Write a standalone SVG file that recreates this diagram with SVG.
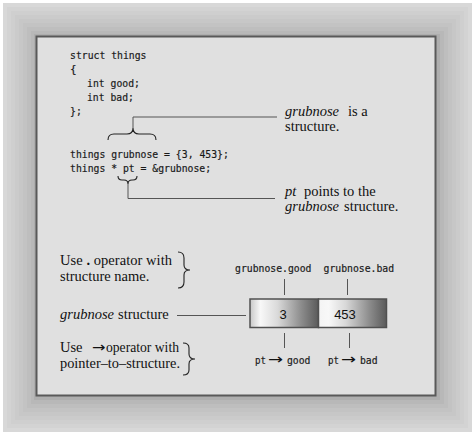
<svg xmlns="http://www.w3.org/2000/svg" width="475" height="435" viewBox="0 0 475 435">
<defs>
<linearGradient id="cell1" x1="0" y1="0" x2="1" y2="0">
<stop offset="0" stop-color="#c8c8c8"/>
<stop offset="0.15" stop-color="#f8f8f8"/>
<stop offset="0.4" stop-color="#dadada"/>
<stop offset="0.75" stop-color="#8c8c8c"/>
<stop offset="1" stop-color="#5a5a5a"/>
</linearGradient>
<linearGradient id="cell2" x1="0" y1="0" x2="1" y2="0">
<stop offset="0" stop-color="#f4f4f4"/>
<stop offset="0.15" stop-color="#f8f8f8"/>
<stop offset="0.4" stop-color="#d8d8d8"/>
<stop offset="0.75" stop-color="#8c8c8c"/>
<stop offset="1" stop-color="#5a5a5a"/>
</linearGradient>
</defs>
<style>
.code{font-family:"DejaVu Sans Mono","Liberation Mono",monospace;font-size:11px;fill:#1a1a1a;stroke:#1a1a1a;stroke-width:0.2}
.ser{font-family:"Liberation Serif","Times New Roman",serif;font-size:14.5px;fill:#111}
.it{font-style:italic}
.arr{font-family:"DejaVu Sans",sans-serif;font-size:14px;fill:#111}
.num{font-family:"Liberation Sans",Arial,sans-serif;font-size:13px;fill:#111;text-anchor:middle}
.ln{stroke:#555;stroke-width:1;fill:none}
.br{stroke:#222;stroke-width:1.1;fill:none}
.cell{stroke:#505050;stroke-width:1.5}
</style>
<rect width="475" height="435" fill="#ffffff"/>
<g id="frame">
<rect x="3" y="3" width="469" height="429" fill="#d8d8d8"/>
<rect x="7" y="7" width="461" height="421" fill="#d3d3d3"/>
<rect x="11" y="11" width="453" height="413" fill="#cfcfcf"/>
<rect x="15" y="15" width="445" height="405" fill="#cbcbcb"/>
<rect x="19" y="19" width="437" height="397" fill="#c7c7c7"/>
<rect x="23" y="23" width="429" height="389" fill="#c3c3c3"/>
<rect x="27" y="27" width="421" height="381" fill="#bebebe"/>
<rect x="31" y="31" width="413" height="373" fill="#b8b8b8"/>
<rect x="34" y="34" width="406" height="366" fill="#aeaeae"/>
</g>
<rect x="36.5" y="36.5" width="399" height="359" fill="#e0e0e0" stroke="#595959" stroke-width="2"/>

<g id="code">
<text class="code" x="70" y="59" textLength="76.4" lengthAdjust="spacingAndGlyphs">struct things</text>
<text class="code" x="70" y="73">{</text>
<text class="code" x="87" y="87" textLength="52.9" lengthAdjust="spacingAndGlyphs">int good;</text>
<text class="code" x="87" y="101" textLength="47" lengthAdjust="spacingAndGlyphs">int bad;</text>
<text class="code" x="70" y="115" textLength="11.8" lengthAdjust="spacingAndGlyphs">};</text>
<text class="code" x="70" y="158" textLength="158.8" lengthAdjust="spacingAndGlyphs">things grubnose = {3, 453};</text>
<text class="code" x="70" y="172" textLength="141.1" lengthAdjust="spacingAndGlyphs">things * pt = &amp;grubnose;</text>
</g>

<g id="connectors">
<path class="br" d="M108,140 Q108,134 114,134 L127,134 Q133,134 133,128 Q133,134 139,134 L150,134 Q156,134 156,140"/>
<path class="ln" d="M133,128 V117 H277"/>
<path class="br" d="M118,176 Q118,180 122,180 L124,180 Q128,180 128,184 Q128,180 132,180 L133,180 Q137,180 137,176"/>
<path class="ln" d="M128,184 V198.5 H275"/>
<path class="br" d="M178,252 Q184,252 184,258 L184,265 Q184,270 190,270 Q184,270 184,275 L184,282 Q184,288 178,288"/>
<path class="br" d="M183,343 Q189,343 189,348 L189,354 Q189,359 195,359 Q189,359 189,364 L189,370 Q189,375 183,375"/>
<path class="ln" d="M177,315.5 H246" stroke-width="1.3"/>
<path class="ln" d="M284.5,279 V295 M347.5,279 V295 M284.5,333 V348 M349.5,333 V348"/>
</g>

<g id="label-grubnose-is">
<text class="ser" y="116"><tspan class="it" x="285">grubnose</tspan><tspan x="348">is a</tspan></text>
<text class="ser" x="285" y="131">structure.</text>
</g>
<g id="label-pt-points">
<text class="ser" y="196"><tspan class="it" x="285">pt</tspan><tspan x="304">points to the</tspan></text>
<text class="ser" y="211"><tspan class="it" x="285">grubnose</tspan><tspan x="344">structure.</tspan></text>
</g>

<g id="label-dot">
<text class="ser" x="60" y="265" textLength="112" lengthAdjust="spacing">Use <tspan font-weight="bold">.</tspan> operator with</text>
<text class="ser" x="60" y="281">structure name.</text>
</g>
<g id="label-struct">
<text class="ser" y="319"><tspan class="it" x="60">grubnose</tspan><tspan x="118">structure</tspan></text>
</g>
<g id="label-arrow">
<text class="ser" x="60" y="351.5">Use</text>
<text class="arr" x="92" y="351.5" textLength="13.5" lengthAdjust="spacingAndGlyphs">→</text>
<text class="ser" x="106" y="351.5" textLength="73" lengthAdjust="spacingAndGlyphs">operator with</text>
<text class="ser" x="60" y="368" textLength="120" lengthAdjust="spacingAndGlyphs">pointer–to–structure.</text>
</g>

<g id="cell-good">
<rect class="cell" x="250" y="299" width="68.5" height="28.5" fill="url(#cell1)"/>
<text class="num" x="283" y="319">3</text>
</g>
<g id="cell-bad">
<rect class="cell" x="318.5" y="299" width="68" height="28.5" fill="url(#cell2)"/>
<text class="num" x="345" y="319">453</text>
</g>

<g id="labels-members">
<text class="code" x="235" y="272" textLength="76.4" lengthAdjust="spacingAndGlyphs">grubnose.good</text>
<text class="code" x="323.5" y="272" textLength="70.6" lengthAdjust="spacingAndGlyphs">grubnose.bad</text>
<text class="code" x="255" y="364" textLength="11" lengthAdjust="spacingAndGlyphs">pt</text>
<text class="arr" x="268" y="364" textLength="15" lengthAdjust="spacingAndGlyphs">→</text>
<text class="code" x="287" y="364" textLength="23.5" lengthAdjust="spacingAndGlyphs">good</text>
<text class="code" x="328" y="364" textLength="11" lengthAdjust="spacingAndGlyphs">pt</text>
<text class="arr" x="341" y="364" textLength="15" lengthAdjust="spacingAndGlyphs">→</text>
<text class="code" x="360" y="364" textLength="17.6" lengthAdjust="spacingAndGlyphs">bad</text>
</g>
</svg>
